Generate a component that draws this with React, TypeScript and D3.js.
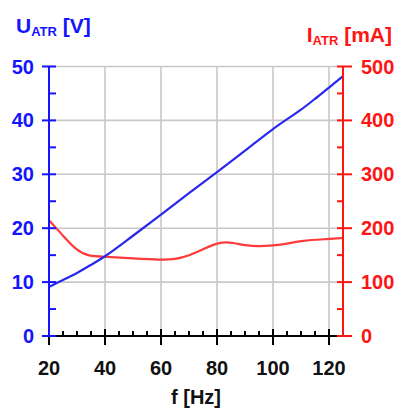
import React, { useEffect, useRef } from 'react';
import * as d3 from 'd3';

// frequency axis ticks
const xMajorTicks = [20, 40, 60, 80, 100, 120];
const leftTicks = [0, 10, 20, 30, 40, 50];
const rightTicks = [0, 100, 200, 300, 400, 500];

// U_ATR [V] vs f
const uFreq = [20, 25, 30, 35, 40, 50, 60, 70, 80, 90, 100, 110, 115, 120, 125];
const uValues = [9.1, 10.4, 11.7, 13.2, 14.8, 18.6, 22.5, 26.5, 30.4, 34.4, 38.4, 42.0, 44.0, 46.1, 48.2];

// I_ATR [mA] vs f
const iFreq = [20, 25, 30, 34, 40, 50, 60, 65, 70, 75, 81, 86, 90, 95, 100, 105, 110, 120, 125];
const iValues = [215, 186, 158, 148, 147, 144, 141, 142, 149, 161, 175, 173, 168, 166, 168, 171, 177, 180, 182];

const W = 397;
const H = 410;
const BLUE = '#1414ff';
const RED = '#ff1414';
const FONT = '"Liberation Sans", Arial, sans-serif';

const App = () => {
  const svgRef = useRef<SVGSVGElement>(null);

  useEffect(() => {
    const svg = d3.select(svgRef.current);
    svg.selectAll('*').remove();

    const x = d3.scaleLinear().domain([20, 125]).range([49, 343]);
    const yL = d3.scaleLinear().domain([0, 50]).range([336, 66.5]);
    const yR = d3.scaleLinear().domain([0, 500]).range([336, 66.5]);
    const x0 = x.range()[0];
    const x1 = x.range()[1];
    const y0 = yL.range()[0];
    const y1 = yL.range()[1];

    // grid
    const grid = svg.append('g').attr('stroke', '#c8c8c8').attr('stroke-width', 1.6);
    grid.selectAll('.vg')
      .data(xMajorTicks.filter(d => d > 20))
      .join('line')
      .attr('x1', d => x(d)).attr('x2', d => x(d))
      .attr('y1', y1).attr('y2', y0);
    grid.selectAll('.hg')
      .data(leftTicks.filter(d => d > 0))
      .join('line')
      .attr('x1', x0).attr('x2', x1)
      .attr('y1', d => yL(d)).attr('y2', d => yL(d));

    // curves
    const uLine = d3.line<number>()
      .x((d, i) => x(uFreq[i]))
      .y(d => yL(d))
      .curve(d3.curveCatmullRom.alpha(0.5));
    const iLine = d3.line<number>()
      .x((d, i) => x(iFreq[i]))
      .y(d => yR(d))
      .curve(d3.curveBasis);

    svg.append('path').attr('d', iLine(iValues)).attr('fill', 'none')
      .attr('stroke', '#ff3a3a').attr('stroke-width', 2.2);
    svg.append('path').attr('d', uLine(uValues)).attr('fill', 'none')
      .attr('stroke', '#2828ee').attr('stroke-width', 2.2);

    // x axis (black)
    const xa = svg.append('g').attr('stroke', '#000').attr('stroke-width', 2);
    xa.append('line').attr('x1', x0).attr('x2', x1).attr('y1', y0).attr('y2', y0);
    const minor = d3.range(25, 125, 5).filter(d => d % 20 !== 0);
    xa.selectAll('.mn').data(minor).join('line')
      .attr('x1', d => x(d)).attr('x2', d => x(d))
      .attr('y1', y0 - 5).attr('y2', y0);
    xa.selectAll('.mj').data(xMajorTicks).join('line')
      .attr('x1', d => x(d)).attr('x2', d => x(d))
      .attr('y1', y0 - 7).attr('y2', y0 + 9);
    svg.append('g').selectAll('text').data(xMajorTicks).join('text')
      .attr('x', d => x(d)).attr('y', 375)
      .attr('text-anchor', 'middle')
      .attr('font-family', FONT).attr('font-weight', 'bold').attr('font-size', 20)
      .attr('fill', '#111')
      .text(d => d);
    svg.append('text').attr('x', (x0 + x1) / 2).attr('y', 404)
      .attr('text-anchor', 'middle')
      .attr('font-family', FONT).attr('font-weight', 'bold').attr('font-size', 20)
      .attr('fill', '#111').text('f [Hz]');

    // left axis (blue)
    const la = svg.append('g').attr('stroke', BLUE).attr('stroke-width', 2);
    la.append('line').attr('x1', x0).attr('x2', x0).attr('y1', y1).attr('y2', y0);
    la.selectAll('.mn').data(d3.range(5, 50, 10)).join('line')
      .attr('x1', x0).attr('x2', x0 + 7)
      .attr('y1', d => yL(d)).attr('y2', d => yL(d));
    la.selectAll('.mj').data(leftTicks).join('line')
      .attr('x1', x0 - 7).attr('x2', x0 + 7)
      .attr('y1', d => yL(d)).attr('y2', d => yL(d));
    svg.append('g').selectAll('text').data(leftTicks).join('text')
      .attr('x', 34).attr('y', d => yL(d) + 7)
      .attr('text-anchor', 'end')
      .attr('font-family', FONT).attr('font-weight', 'bold').attr('font-size', 20)
      .attr('fill', BLUE)
      .text(d => d);

    // right axis (red)
    const ra = svg.append('g').attr('stroke', RED).attr('stroke-width', 2);
    ra.append('line').attr('x1', x1).attr('x2', x1).attr('y1', y1).attr('y2', y0);
    ra.selectAll('.mn').data(d3.range(50, 500, 100)).join('line')
      .attr('x1', x1 - 6).attr('x2', x1)
      .attr('y1', d => yR(d)).attr('y2', d => yR(d));
    ra.selectAll('.mj').data(rightTicks).join('line')
      .attr('x1', x1 - 6).attr('x2', x1 + 9)
      .attr('y1', d => yR(d)).attr('y2', d => yR(d));
    svg.append('g').selectAll('text').data(rightTicks).join('text')
      .attr('x', 361).attr('y', d => yR(d) + 7)
      .attr('text-anchor', 'start')
      .attr('font-family', FONT).attr('font-weight', 'bold').attr('font-size', 20)
      .attr('fill', RED)
      .text(d => d);

    // titles
    const lt = svg.append('text').attr('x', 16).attr('y', 33)
      .attr('font-family', FONT).attr('font-weight', 'bold').attr('font-size', 21)
      .attr('fill', BLUE);
    lt.append('tspan').text('U');
    lt.append('tspan').attr('font-size', 13).attr('dy', 3).text('ATR');
    lt.append('tspan').attr('dy', -3).text(' [V]');

    const rt = svg.append('text').attr('x', 392).attr('y', 42)
      .attr('text-anchor', 'end')
      .attr('font-family', FONT).attr('font-weight', 'bold').attr('font-size', 21)
      .attr('fill', RED);
    rt.append('tspan').text('I');
    rt.append('tspan').attr('font-size', 13).attr('dy', 3).text('ATR');
    rt.append('tspan').attr('dy', -3).text(' [mA]');
  }, []);

  return (
    <svg ref={svgRef} width={W} height={H}
      style={{ position: 'absolute', left: 0, top: 0, background: '#fff' }} />
  );
};

export default App;
